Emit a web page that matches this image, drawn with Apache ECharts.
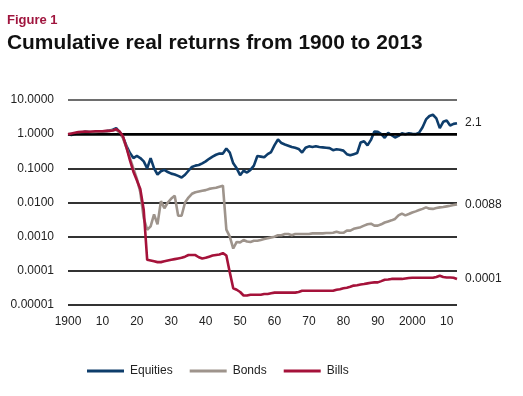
<!DOCTYPE html>
<html>
<head>
<meta charset="utf-8">
<script src="https://cdn.jsdelivr.net/npm/echarts@6/dist/echarts.min.js"></script>
<style>
html,body{margin:0;padding:0;background:#fff;}
#chart{width:523px;height:396px;}
</style>
</head>
<body>
<div id="chart"></div>
<script>
// ---- data ----
var startYear = 1900;
var equities = [
  1.00, 0.95, 1.02, 1.08, 1.12, 1.18, 1.15, 1.10, 1.15, 1.20,
  1.20, 1.22, 1.28, 1.35, 1.50, 1.15, 0.80, 0.45, 0.28, 0.20,
  0.23, 0.20, 0.16, 0.10, 0.20, 0.10, 0.066, 0.082, 0.090, 0.078,
  0.070, 0.066, 0.060, 0.054, 0.065, 0.085, 0.110, 0.120, 0.125, 0.140,
  0.160, 0.190, 0.220, 0.250, 0.270, 0.270, 0.380, 0.290, 0.140, 0.100,
  0.063, 0.085, 0.075, 0.090, 0.120, 0.230, 0.220, 0.210, 0.260, 0.300,
  0.480, 0.700, 0.550, 0.500, 0.460, 0.420, 0.400, 0.370, 0.290, 0.400,
  0.440, 0.420, 0.440, 0.420, 0.410, 0.400, 0.390, 0.340, 0.360, 0.350,
  0.330, 0.260, 0.240, 0.260, 0.280, 0.570, 0.620, 0.470, 0.680, 1.200,
  1.170, 1.000, 0.780, 1.100, 0.930, 0.800, 0.890, 1.070, 1.000, 1.070,
  1.020, 1.000, 1.110, 1.600, 2.700, 3.400, 3.700, 2.900, 1.500, 2.300,
  2.500, 1.800, 2.000, 2.100
];
var bonds = [
  1.00, 1.00, 1.05, 1.10, 1.12, 1.15, 1.15, 1.12, 1.15, 1.18,
  1.20, 1.20, 1.25, 1.30, 1.35, 1.10, 0.75, 0.40, 0.20, 0.10,
  0.050, 0.020, 0.0035, 0.0016, 0.0020, 0.0045, 0.0023, 0.011, 0.0068, 0.010,
  0.013, 0.0157, 0.0041, 0.0041, 0.010, 0.014, 0.018, 0.020, 0.021, 0.022,
  0.023, 0.025, 0.026, 0.027, 0.029, 0.031, 0.0016, 0.0010, 0.00045, 0.00070,
  0.00068, 0.00080, 0.00072, 0.00070, 0.00076, 0.00076, 0.00080, 0.00085, 0.00090, 0.00095,
  0.0010, 0.0011, 0.0011, 0.0012, 0.0012, 0.0011, 0.0012, 0.0012, 0.0012, 0.0012,
  0.0012, 0.00125, 0.00125, 0.00125, 0.00125, 0.00128, 0.00128, 0.0013, 0.0014, 0.0013,
  0.0013, 0.0015, 0.0015, 0.0017, 0.0018, 0.0019, 0.0021, 0.0023, 0.0024, 0.0021,
  0.0021, 0.0023, 0.0026, 0.0028, 0.0030, 0.0033, 0.0042, 0.0047, 0.0042, 0.0046,
  0.0051, 0.0055, 0.0060, 0.0065, 0.0072, 0.0066, 0.0065, 0.0069, 0.0072, 0.0074,
  0.0077, 0.0080, 0.0084, 0.0088
];
var bills = [
  1.00, 1.05, 1.10, 1.15, 1.18, 1.20, 1.18, 1.20, 1.22, 1.22,
  1.22, 1.25, 1.25, 1.28, 1.40, 1.20, 0.85, 0.40, 0.17, 0.08,
  0.045, 0.025, 0.006, 0.00021, 0.00020, 0.00019, 0.00018, 0.00018, 0.00019, 0.00020,
  0.00021, 0.00022, 0.00023, 0.00024, 0.00026, 0.00029, 0.00029, 0.00029, 0.00025, 0.00023,
  0.00024, 0.00026, 0.00028, 0.00029, 0.00030, 0.00033, 0.00028, 0.00009, 0.000031, 0.000028,
  0.000024, 0.000019, 0.000019, 0.000020, 0.000020, 0.000020, 0.000020, 0.000021, 0.000021, 0.000022,
  0.000023, 0.000023, 0.000023, 0.000023, 0.000023, 0.000023, 0.000023, 0.000024, 0.000026, 0.000026,
  0.000026, 0.000026, 0.000026, 0.000026, 0.000026, 0.000026, 0.000026, 0.000026, 0.000028, 0.000029,
  0.000031, 0.000032, 0.000034, 0.000037, 0.000038, 0.000040, 0.000041, 0.000043, 0.000045, 0.000046,
  0.000046, 0.000050, 0.000055, 0.000056, 0.000058, 0.000058, 0.000058, 0.000058, 0.000060, 0.000062,
  0.000063, 0.000063, 0.000063, 0.000063, 0.000063, 0.000063, 0.000063, 0.000066, 0.000072, 0.000066,
  0.000064, 0.000064, 0.000063, 0.000058
];
var seriesNames = ['Equities', 'Bonds', 'Bills'];
var endLabelTexts = ['2.1', '0.0088', '0.0001'];
var xTickLabels = ['1900', '10', '20', '30', '40', '50', '60', '70', '80', '90', '2000', '10'];
var yTickLabels = ['0.00001', '0.0001', '0.0010', '0.0100', '0.1000', '1.0000', '10.0000'];
var colors = ['#0E3D6B', '#9E948C', '#A5123A'];

// ---- build ----
function toPairs(arr) {
  return arr.map(function (v, i) { return [startYear + i, v]; });
}
var dataSets = [equities, bonds, bills];

var chart = echarts.init(document.getElementById('chart'), null, { renderer: 'canvas' });
var font = '"Liberation Sans", Arial, sans-serif';

var series = dataSets.map(function (arr, k) {
  return {
    name: seriesNames[k],
    type: 'line',
    data: toPairs(arr),
    showSymbol: false,
    symbol: 'none',
    lineStyle: { color: colors[k], width: 2.6 },
    itemStyle: { color: colors[k] },
    z: 3 + k,
    endLabel: {
      show: true,
      formatter: function () { return endLabelTexts[k]; },
      color: '#222',
      fontFamily: font,
      fontSize: 12,
      distance: 8
    },
    animation: false
  };
});
// heavy line at 1.0
series.push({
  name: 'ref',
  type: 'line',
  data: [],
  z: 2,
  markLine: {
    silent: true,
    symbol: 'none',
    label: { show: false },
    lineStyle: { color: '#000', width: 2.6, type: 'solid' },
    data: [{ yAxis: 1 }],
    animation: false
  }
});

var option = {
  backgroundColor: '#fff',
  animation: false,
  title: [
    { text: 'Figure 1', left: 2, top: 9,
      textStyle: { fontFamily: font, fontSize: 13, fontWeight: 'bold', color: '#A0153E' } },
    { text: 'Cumulative real returns from 1900 to 2013', left: 2, top: 28,
      textStyle: { fontFamily: font, fontSize: 20.9, fontWeight: 'bold', color: '#111' } }
  ],
  legend: {
    data: seriesNames,
    left: 82,
    top: 360,
    icon: 'rect',
    itemWidth: 37,
    itemHeight: 3,
    itemGap: 17,
    textStyle: { fontFamily: font, fontSize: 12, color: '#222', padding: [0, 0, 0, 1] }
  },
  grid: { left: 68, right: 66, top: 100, bottom: 91, containLabel: false },
  xAxis: {
    type: 'value',
    min: 1900,
    max: 2013,
    interval: 10,
    axisLine: { show: false },
    axisTick: { show: false },
    splitLine: { show: false },
    axisLabel: {
      margin: 11,
      fontFamily: font,
      fontSize: 12,
      color: '#222',
      showMaxLabel: false,
      formatter: function (v) {
        var i = Math.round((v - 1900) / 10);
        return xTickLabels[i] !== undefined ? xTickLabels[i] : '';
      }
    }
  },
  yAxis: {
    type: 'log',
    logBase: 10,
    min: 0.00001,
    max: 10,
    axisLine: { show: false },
    axisTick: { show: false },
    axisLabel: {
      margin: 14,
      fontFamily: font,
      fontSize: 12,
      color: '#222',
      formatter: function (v) {
        var i = Math.round(Math.log10(v)) + 5;
        return yTickLabels[i] !== undefined ? yTickLabels[i] : '';
      }
    },
    splitLine: {
      show: true,
      lineStyle: { color: ['#333', '#333', '#333', '#333', '#333', '#000', '#6e6e6e'], width: 1.8 }
    }
  },
  series: series
};
chart.setOption(option);
</script>
</body>
</html>
